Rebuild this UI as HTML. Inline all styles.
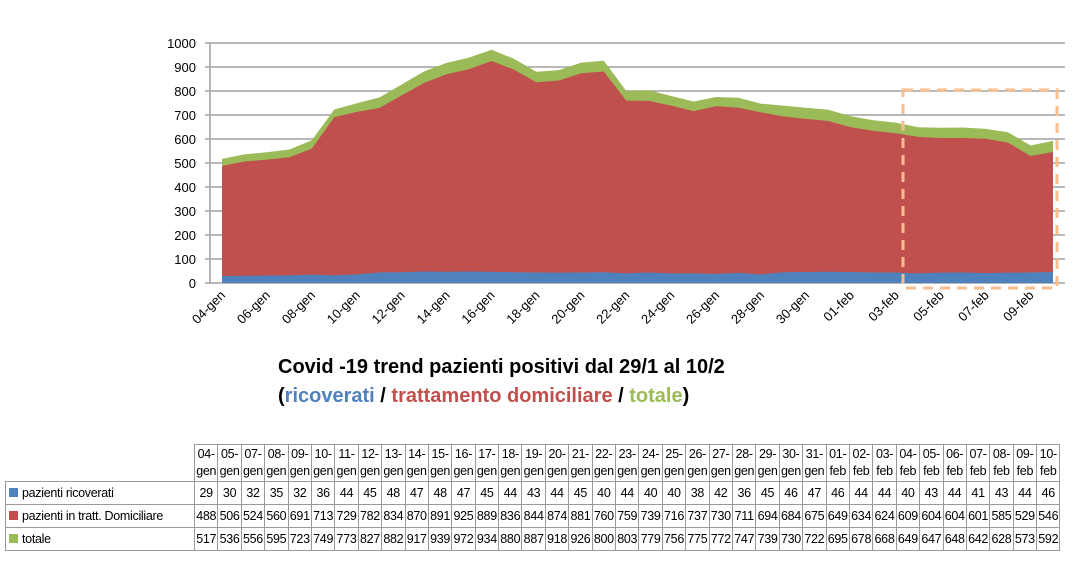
<!DOCTYPE html>
<html><head><meta charset="utf-8"><style>
body{margin:0;width:1084px;height:582px;background:#fff;overflow:hidden;font-family:"Liberation Sans",Arial,sans-serif;position:relative}
svg{position:absolute;left:0;top:0}
table{position:absolute;left:5px;top:444px;border-collapse:collapse;font-size:12.5px;color:#000}
td{border:1px solid #999;padding:0;text-align:center;width:22.4px;height:22px;line-height:14px;white-space:nowrap;overflow:hidden;letter-spacing:-0.3px}
td.h{height:36px;white-space:normal;line-height:17px}
td.lab{text-align:left;width:185px;padding-left:3px}
td.e{border:none;border-bottom:1px solid #999}
.sw{display:inline-block;width:9px;height:9px;margin-right:4px}
.t{position:absolute;left:278px;font-weight:bold;font-size:20px;white-space:nowrap}
</style></head><body>
<svg id="chart" width="1084" height="440"></svg>
<div class="t" style="top:356px">Covid -19 trend pazienti positivi dal 29/1 al 10/2</div>
<div class="t" style="top:385px">(<span style="color:#4f81bd">ricoverati</span> / <span style="color:#c0504d">trattamento domiciliare</span> / <span style="color:#9bbb59">totale</span>)</div>
<table id="tbl"></table>
<script>
const categories=["04-gen","05-gen","06-gen","07-gen","08-gen","09-gen","10-gen","11-gen","12-gen","13-gen","14-gen","15-gen","16-gen","17-gen","18-gen","19-gen","20-gen","21-gen","22-gen","23-gen","24-gen","25-gen","26-gen","27-gen","28-gen","29-gen","30-gen","31-gen","01-feb","02-feb","03-feb","04-feb","05-feb","06-feb","07-feb","08-feb","09-feb","10-feb"];
const ricoverati=[29,30,31,32,35,32,36,44,45,48,47,48,47,45,44,43,44,45,40,44,40,40,38,42,36,45,46,47,46,44,44,40,43,44,41,43,44,46];
const domiciliare=[488,506,514,524,560,691,713,729,782,834,870,891,925,889,836,844,874,881,760,759,739,716,737,730,711,694,684,675,649,634,624,609,604,604,601,585,529,546];
const totale=[517,536,545,556,595,723,749,773,827,882,917,939,972,934,880,887,918,926,800,803,779,756,775,772,747,739,730,722,695,678,668,649,647,648,642,628,573,592];
const yTicks=[0,100,200,300,400,500,600,700,800,900,1000];
const NS="http://www.w3.org/2000/svg";
const svg=document.getElementById('chart');
const X0=222,X1=1053,Y0=283,Y1=43;
const x=i=>X0+i*(X1-X0)/(categories.length-1);
const y=v=>Y0-(v/1000)*(Y0-Y1);
function mk(t,a){const e=document.createElementNS(NS,t);for(const k in a)e.setAttribute(k,a[k]);svg.appendChild(e);return e;}
yTicks.forEach(v=>{
  const l=mk('line',{x1:205,x2:1065,y1:y(v),y2:y(v),stroke:'#a0a0a0','stroke-width':1.5});
  
  
  const t=mk('text',{x:196,y:y(v)+5,'text-anchor':'end','font-size':13,fill:'#000'});
  t.textContent=v;
  
  
});
mk('line',{x1:210,x2:210,y1:Y1,y2:Y0,stroke:'#a0a0a0','stroke-width':1.5});
function area(vals,color,name){
  let d='M'+x(0)+','+Y0;
  vals.forEach((v,i)=>{d+=' L'+x(i)+','+y(v);});
  d+=' L'+x(vals.length-1)+','+Y0+' Z';
  const p=mk('path',{d:d,fill:color});
  
  
}
area(totale,'#9bbb59','area-totale');
area(domiciliare,'#c0504d','area-domiciliare');
area(ricoverati,'#4f81bd','area-ricoverati');
categories.forEach((c,i)=>{
  if(i%2)return;
  const t=mk('text',{x:x(i)+4,y:296,'text-anchor':'end','font-size':13,fill:'#000',transform:'rotate(-45 '+(x(i)+4)+' 296)'});
  t.textContent=c;
  
  
});
const box=mk('rect',{x:903,y:90,width:154,height:198,fill:'none',stroke:'#f9be8e','stroke-width':3,'stroke-dasharray':'10,7'});



// table
const tcats=categories.filter(c=>c!=="06-gen");
const idx=categories.map((c,i)=>i).filter(i=>categories[i]!=="06-gen");
const tbl=document.getElementById('tbl');
let h='<tr><td class="lab e" style="border-top:none;border-left:none"></td>';
tcats.forEach(c=>{const p=c.split('-');h+='<td class="h">'+p[0]+'-<br>'+p[1]+'</td>';});
h+='</tr>';
const rows=[['pazienti ricoverati','#4f81bd',ricoverati],['pazienti in tratt. Domiciliare','#c0504d',domiciliare],['totale','#9bbb59',totale]];
rows.forEach(r=>{h+='<tr><td class="lab"><span class="sw" style="background:'+r[1]+'"></span>'+r[0]+'</td>';idx.forEach(i=>{h+='<td>'+r[2][i]+'</td>';});h+='</tr>';});
tbl.innerHTML=h;
</script>
</body></html>
